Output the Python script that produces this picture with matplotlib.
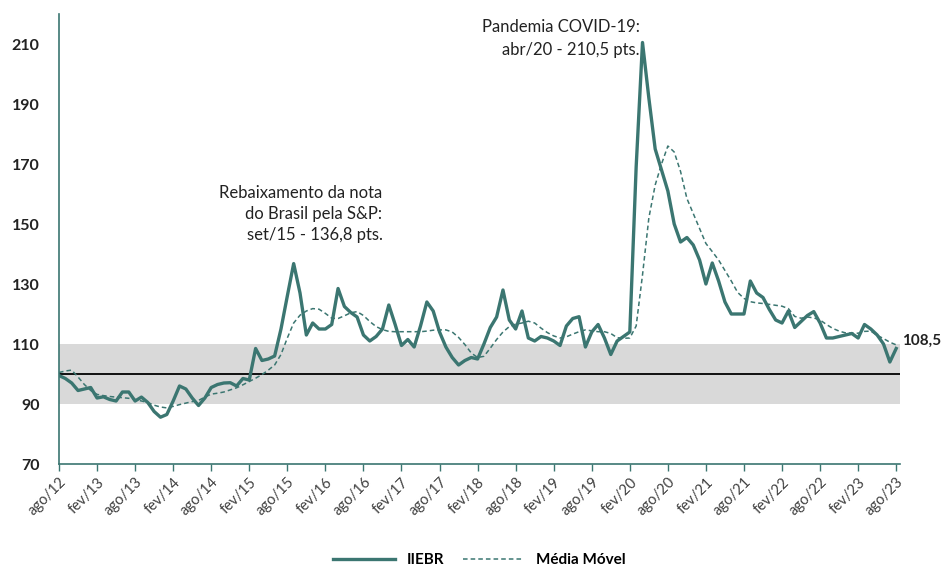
import matplotlib
matplotlib.use("Agg")
import matplotlib.pyplot as plt

plt.rcParams['font.family'] = ['Lato', 'DejaVu Sans']

# IIEBR mensal, ago/12 a ago/23
iiebr = [99.5, 98.5, 97, 94.5, 95, 95.5, 92, 92.4, 91.5, 91, 94, 94,
         91, 92.3, 90.5, 87.5, 85.6, 86.5, 91, 96, 95, 92, 89.5, 92,
         95.5, 96.5, 97, 97.1, 96, 98.5, 98, 108.5, 104.5, 105, 106, 115,
         126, 136.8, 127, 113, 117, 115, 115, 116.5, 128.5, 122.5, 120.5, 119,
         113, 111, 112.5, 115, 123, 116.5, 109.5, 111.5, 109, 116, 124, 121,
         114, 109, 105.5, 103, 104.5, 105.5, 105, 110, 115.5, 119, 128, 118,
         115, 121, 112, 111, 112.5, 112, 111, 109.5, 116, 118.5, 119.1, 109,
         114, 116.5, 112, 106.5, 111, 112.5, 114, 169, 210.5, 192, 175, 168,
         161, 150, 144, 145.5, 143, 138, 130, 137, 131, 124, 120, 120,
         120, 131, 127, 125.5, 121.5, 118, 117, 121, 115.5, 117.5, 119.5, 120.8,
         117, 112, 112, 112.5, 113, 113.5, 112, 116.5, 115, 113, 110, 104,
         108.5]

media_movel = [100.5, 101, 101.3, 99, 96.5, 94.5, 93.2, 92.8, 92.5, 92.3, 92.1, 91.9,
               91.5, 91, 90.5, 89.6, 89, 88.7, 89.2, 89.8, 90.3, 90.8, 91.2, 92.3,
               93.3, 93.6, 94, 94.7, 95.4, 96.4, 97.5, 98.6, 99.8, 101.3, 103, 106.5,
               112, 117, 119.6, 121, 121.8, 121.6, 120.2, 118.6, 118.5, 119.4, 120.4, 120.8,
               119.5, 117.5, 115.8, 114.8, 114.2, 114.1, 114.1, 114.1, 114.1, 114.1, 114.3, 114.6,
               114.7, 114.7, 114, 112.2, 109.8, 107, 105.5, 105.9, 108.6, 111.5, 114, 115.8,
               116.6, 117, 117.6, 117, 115.3, 113.8, 112.7, 112, 112.4, 113.3, 114.1, 114.7,
               114.4, 114.1, 114.1, 113.5, 112.1, 111.9, 112, 116, 133, 152, 163, 170,
               176, 174, 167.5, 158.5, 153.5, 148.5, 143.5, 140.8, 138, 134.5, 131, 127.2,
               125.2, 124.1, 123.7, 123.5, 123.2, 122.9, 122.6, 121.8, 119.2, 118.6, 119, 118.7,
               118, 116.5, 115.2, 114.3, 113.7, 113.6, 113.6, 114.2, 114.3, 112.9, 111.8, 110.6,
               109.7]

tick_labels = ['ago/12', 'fev/13', 'ago/13', 'fev/14', 'ago/14', 'fev/15', 'ago/15',
               'fev/16', 'ago/16', 'fev/17', 'ago/17', 'fev/18', 'ago/18', 'fev/19',
               'ago/19', 'fev/20', 'ago/20', 'fev/21', 'ago/21', 'fev/22', 'ago/22',
               'fev/23', 'ago/23']

teal = '#3b7671'
x = list(range(len(iiebr)))

fig = plt.figure(figsize=(9.44, 5.75), dpi=100)
ax = fig.add_axes([59/944, 1-464/575, 841/944, 450/575])

ax.axhspan(90, 110, color='#d9d9d9', zorder=0, lw=0)
ax.axhline(100, color='black', lw=1.3, zorder=1)

ax.plot(x, iiebr, color=teal, lw=2.4, label='IIEBR', zorder=3)
ax.plot(x, media_movel, color=teal, lw=1.1, ls=(0, (3, 2)), label='Média Móvel', zorder=2)

ax.set_xlim(0, 132.6)
ax.set_ylim(70, 220)
ax.set_yticks(range(70, 211, 20))
ax.set_xticks(range(0, 133, 6))
ax.set_xticklabels(tick_labels, rotation=45, ha='right', rotation_mode='anchor',
                   fontsize=10.5, color='#404040')
for lab in ax.get_yticklabels():
    lab.set_fontweight('bold')
    lab.set_fontsize(11.5)
    lab.set_color('#222222')

ax.tick_params(axis='y', length=0, pad=14)
ax.tick_params(axis='x', length=5, color=teal, width=1, pad=3)
for s in ['top', 'right']:
    ax.spines[s].set_visible(False)
for s in ['left', 'bottom']:
    ax.spines[s].set_color(teal)
    ax.spines[s].set_linewidth(1.2)

ax.text(91.6, 218.5, 'Pandemia COVID-19:\nabr/20 - 210,5 pts.', ha='right', va='top',
        fontsize=12, color='#222222', linespacing=1.55)
ax.text(51, 163, 'Rebaixamento da nota\ndo Brasil pela S&P:\nset/15 - 136,8 pts.',
        ha='right', va='top', fontsize=12, color='#222222', linespacing=1.4)
ax.text(133, iiebr[-1] + 2.5, '108,5', ha='left', va='center', fontsize=11,
        fontweight='bold', color='#222222', clip_on=False)

fig.legend(loc='lower center', ncol=2, frameon=False,
           bbox_to_anchor=(0.508, -0.01), handlelength=4, columnspacing=1.2,
           prop={'weight': 'bold', 'size': 11})

fig.savefig('out.png', dpi=100)
